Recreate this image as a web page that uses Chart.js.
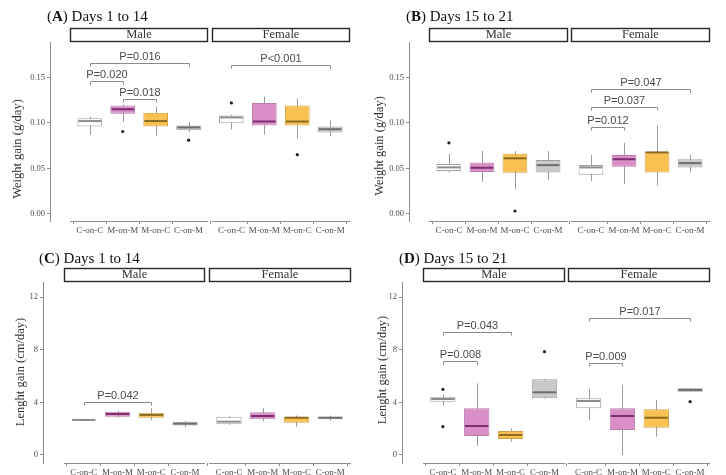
<!DOCTYPE html>
<html>
<head>
<meta charset="utf-8">
<script src="https://cdn.jsdelivr.net/npm/chart.js@4"></script>
<style>
html, body { margin: 0; padding: 0; background: #fff; overflow: hidden; }
#wrap { position: relative; width: 726px; height: 475px; overflow: hidden; }
canvas { position: absolute; }
</style>
</head>
<body>
<div id="wrap">
  <canvas id="panelA" width="372" height="237" style="left:0;top:0"></canvas>
  <canvas id="panelB" width="360" height="237" style="left:372px;top:0"></canvas>
  <canvas id="panelC" width="372" height="238" style="left:0;top:237px"></canvas>
  <canvas id="panelD" width="360" height="238" style="left:372px;top:237px"></canvas>
</div>
<script>
// treatment groups, same order in every facet
const groups = ['C-on-C', 'M-on-M', 'M-on-C', 'C-on-M'];

// boxes: [lower whisker, Q1, median, Q3, upper whisker]
const wtEarlyMale   = [[0.087, 0.096, 0.102, 0.105, 0.107], [0.101, 0.110, 0.115, 0.119, 0.120], [0.086, 0.096, 0.102, 0.111, 0.118], [0.090, 0.092, 0.095, 0.097, 0.101]];
const wtEarlyFemale = [[0.093, 0.0997, 0.106, 0.108, 0.109], [0.087, 0.097, 0.1015, 0.122, 0.129], [0.083, 0.097, 0.1015, 0.119, 0.127], [0.085, 0.0894, 0.093, 0.096, 0.103]];
const wtLateMale    = [[0.0455, 0.047, 0.051, 0.0547, 0.066], [0.035, 0.046, 0.0506, 0.0565, 0.069], [0.027, 0.045, 0.061, 0.066, 0.069], [0.037, 0.0455, 0.0535, 0.059, 0.069]];
const wtLateFemale  = [[0.036, 0.043, 0.051, 0.0535, 0.0645], [0.0327, 0.0517, 0.060, 0.0645, 0.078], [0.031, 0.0455, 0.0675, 0.068, 0.097], [0.0455, 0.051, 0.0557, 0.060, 0.065]];
const lenEarlyMale   = [[2.62, 2.63, 2.66, 2.69, 2.70], [2.85, 2.91, 3.11, 3.29, 3.35], [2.65, 2.83, 3.04, 3.21, 3.55], [2.10, 2.23, 2.38, 2.53, 2.60]];
const lenEarlyFemale = [[2.30, 2.33, 2.53, 2.91, 2.95], [2.55, 2.71, 2.96, 3.24, 3.55], [2.15, 2.45, 2.83, 2.91, 3.00], [2.60, 2.71, 2.83, 2.91, 3.00]];
const lenLateMale    = [[3.80, 4.05, 4.25, 4.43, 4.60], [0.68, 1.44, 2.20, 3.54, 5.44], [1.01, 1.21, 1.52, 1.82, 2.02], [4.30, 4.30, 4.76, 5.75, 5.75]];
const lenLateFemale  = [[2.66, 3.54, 4.10, 4.30, 5.00], [0.00, 1.90, 2.96, 3.54, 5.30], [1.39, 2.07, 2.83, 3.47, 4.17], [4.81, 4.81, 4.94, 5.06, 5.06]];

// outliers: [group index, value]
const wtEarlyMaleOut   = [[1, 0.0905], [3, 0.081]];
const wtEarlyFemaleOut = [[0, 0.122], [2, 0.065]];
const wtLateMaleOut    = [[0, 0.078], [2, 0.003]];
const wtLateFemaleOut  = [];
const lenEarlyMaleOut   = [];
const lenEarlyFemaleOut = [];
const lenLateMaleOut    = [[0, 4.99], [0, 2.15], [3, 7.85]];
const lenLateFemaleOut  = [[3, 4.05]];

// significance brackets: [from group, to group, height, label]
const wtEarlyMaleSig   = [[0, 3, 0.166, 'P=0.016'], [0, 1, 0.146, 'P=0.020'], [1, 2, 0.1265, 'P=0.018']];
const wtEarlyFemaleSig = [[0, 3, 0.164, 'P<0.001']];
const wtLateMaleSig    = [];
const wtLateFemaleSig  = [[0, 3, 0.137, 'P=0.047'], [0, 2, 0.117, 'P=0.037'], [0, 1, 0.095, 'P=0.012']];
const lenEarlyMaleSig   = [[0, 2, 4.05, 'P=0.042']];
const lenEarlyFemaleSig = [];
const lenLateMaleSig    = [[0, 2, 9.32, 'P=0.043'], [0, 1, 7.14, 'P=0.008']];
const lenLateFemaleSig  = [[0, 3, 10.43, 'P=0.017'], [0, 1, 7.0, 'P=0.009']];

const weightTicks = [0, 0.05, 0.10, 0.15];
const lengthTicks = [0, 4, 8, 12];

// x positions of the 8 boxes (male facet then female facet) and facet extents
const xPos = [1, 2, 3, 4, 5.3, 6.3, 7.3, 8.3];
const facetRanges = [[0.4, 4.6], [4.7, 8.9]];
const facetNames = ['Male', 'Female'];

const fillColors   = ['#ffffff', '#d98ec6', '#f8c152', '#c9c9c9'];
const borderColors = ['#a0a0a0', '#bb7fad', '#d3a245', '#9e9e9e'];
const medianColors = ['#8c8c8c', '#7d2f6f', '#8b6a23', '#6e6e6e'];
const axisGray = '#8c8c8c';
const serif = '"Liberation Serif", "Times New Roman", serif';
const sans = '"Liberation Sans", Arial, sans-serif';

const panels = [
    {canvas: 'panelA', letter: 'A', days: 'Days 1 to 14', yTitle: 'Weight gain (g/day)',
     male: wtEarlyMale, female: wtEarlyFemale, maleOut: wtEarlyMaleOut, femaleOut: wtEarlyFemaleOut,
     maleSig: wtEarlyMaleSig, femaleSig: wtEarlyFemaleSig, ticks: weightTicks, digits: 2,
     yMin: -0.008, yMax: 0.189, left: 0, top: 0, w: 372, h: 237,
     plot: {l: 50, r: 370, t: 42, b: 221}, titleX: 47, titleY: 21, yTitleX: 18, yTitleY: 149},
    {canvas: 'panelB', letter: 'B', days: 'Days 15 to 21', yTitle: 'Weight gain (g/day)',
     male: wtLateMale, female: wtLateFemale, maleOut: wtLateMaleOut, femaleOut: wtLateFemaleOut,
     maleSig: wtLateMaleSig, femaleSig: wtLateFemaleSig, ticks: weightTicks, digits: 2,
     yMin: -0.008, yMax: 0.189, left: 372, top: 0, w: 360, h: 237,
     plot: {l: 409, r: 730, t: 42, b: 221}, titleX: 406, titleY: 21, yTitleX: 380, yTitleY: 146},
    {canvas: 'panelC', letter: 'C', days: 'Days 1 to 14', yTitle: 'Lenght gain (cm/day)',
     male: lenEarlyMale, female: lenEarlyFemale, maleOut: lenEarlyMaleOut, femaleOut: lenEarlyFemaleOut,
     maleSig: lenEarlyMaleSig, femaleSig: lenEarlyFemaleSig, ticks: lengthTicks, digits: 0,
     yMin: -0.61, yMax: 13.14, left: 0, top: 237, w: 372, h: 238,
     plot: {l: 43, r: 371, t: 282, b: 463}, titleX: 39, titleY: 263, yTitleX: 21, yTitleY: 372},
    {canvas: 'panelD', letter: 'D', days: 'Days 15 to 21', yTitle: 'Lenght gain (cm/day)',
     male: lenLateMale, female: lenLateFemale, maleOut: lenLateMaleOut, femaleOut: lenLateFemaleOut,
     maleSig: lenLateMaleSig, femaleSig: lenLateFemaleSig, ticks: lengthTicks, digits: 0,
     yMin: -0.61, yMax: 13.14, left: 372, top: 237, w: 360, h: 238,
     plot: {l: 402, r: 731, t: 282, b: 463}, titleX: 399, titleY: 263, yTitleX: 383, yTitleY: 370}
];

function panelDecor(p){
    const stats = p.male.concat(p.female);
    return {
        id: 'panelDecor',
        beforeDatasetsDraw(chart){      // whiskers sit behind the boxes
            const ctx = chart.ctx, ys = chart.scales.y;
            const meta = chart.getDatasetMeta(0);
            ctx.save();
            ctx.strokeStyle = '#9a9a9a';
            ctx.lineWidth = 1;
            meta.data.forEach(function(bar, i){
                const x = Math.round(bar.x) + 0.5;
                ctx.beginPath();
                ctx.moveTo(x, ys.getPixelForValue(stats[i][0]));
                ctx.lineTo(x, ys.getPixelForValue(stats[i][4]));
                ctx.stroke();
            });
            ctx.restore();
        },
        afterDatasetsDraw(chart){
            const ctx = chart.ctx, xs = chart.scales.x, ys = chart.scales.y;
            const meta = chart.getDatasetMeta(0);
            ctx.save();
            // medians
            ctx.lineWidth = 2;
            meta.data.forEach(function(bar, i){
                const y = ys.getPixelForValue(stats[i][2]);
                ctx.strokeStyle = medianColors[i % 4];
                ctx.beginPath();
                ctx.moveTo(bar.x - bar.width / 2 + 1, y);
                ctx.lineTo(bar.x + bar.width / 2 - 1, y);
                ctx.stroke();
            });
            // significance brackets
            [p.maleSig, p.femaleSig].forEach(function(sigs, f){
                sigs.forEach(function(s){
                    const x1 = Math.round(xs.getPixelForValue(xPos[f * 4 + s[0]])) + 0.5;
                    const x2 = Math.round(xs.getPixelForValue(xPos[f * 4 + s[1]])) + 0.5;
                    const y = Math.round(ys.getPixelForValue(s[2])) + 0.5;
                    ctx.strokeStyle = '#8a8a8a';
                    ctx.lineWidth = 1;
                    ctx.beginPath();
                    ctx.moveTo(x1, y + 3);
                    ctx.lineTo(x1, y);
                    ctx.lineTo(x2, y);
                    ctx.lineTo(x2, y + 3);
                    ctx.stroke();
                    ctx.fillStyle = '#4a4a4a';
                    ctx.font = '11px ' + sans;
                    ctx.textAlign = 'center';
                    ctx.textBaseline = 'bottom';
                    ctx.fillText(s[3], (x1 + x2) / 2, y - 1);
                });
            });
            ctx.restore();
        },
        afterDraw(chart){
            const ctx = chart.ctx, xs = chart.scales.x, area = chart.chartArea;
            ctx.save();
            // panel title with bold letter
            const tx = p.titleX - p.left, ty = p.titleY - p.top;
            ctx.fillStyle = '#111';
            ctx.textBaseline = 'alphabetic';
            ctx.textAlign = 'left';
            ctx.font = '15px ' + serif;
            ctx.fillText('(', tx, ty);
            let cx = tx + ctx.measureText('(').width;
            ctx.font = 'bold 15px ' + serif;
            ctx.fillText(p.letter, cx, ty);
            cx += ctx.measureText(p.letter).width;
            ctx.font = '15px ' + serif;
            ctx.fillText(') ' + p.days, cx, ty);

            // facet strips and per-facet x axis lines
            facetRanges.forEach(function(r, f){
                const x1 = Math.round(xs.getPixelForValue(r[0]));
                const x2 = Math.round(xs.getPixelForValue(r[1]));
                ctx.fillStyle = '#fff';
                ctx.fillRect(x1, area.top - 14, x2 - x1, 14);
                ctx.strokeStyle = '#262626';
                ctx.lineWidth = 1.4;
                ctx.strokeRect(x1 + 0.5, area.top - 14 + 0.5, x2 - x1 - 1, 13);
                ctx.fillStyle = '#333';
                ctx.font = '12.5px ' + serif;
                ctx.textAlign = 'center';
                ctx.textBaseline = 'middle';
                ctx.fillText(facetNames[f], (x1 + x2) / 2, area.top - 7);

                ctx.fillStyle = axisGray;
                ctx.fillRect(x1, Math.round(area.bottom), x2 - x1, 1);
            });

            // y axis title
            ctx.translate(p.yTitleX - p.left, p.yTitleY - p.top);
            ctx.rotate(-Math.PI / 2);
            ctx.fillStyle = '#333';
            ctx.font = '12.5px ' + serif;
            ctx.textAlign = 'center';
            ctx.textBaseline = 'middle';
            ctx.fillText(p.yTitle, 0, 0);
            ctx.restore();
        }
    };
}

panels.forEach(function(p){
    const stats = p.male.concat(p.female);
    const outs = p.maleOut.map(o => ({x: xPos[o[0]], y: o[1]}))
        .concat(p.femaleOut.map(o => ({x: xPos[4 + o[0]], y: o[1]})));
    const yWidth = p.plot.l - p.left;
    const xHeight = p.h - (p.plot.b - p.top);

    new Chart(document.getElementById(p.canvas), {
        type: 'bar',
        data: {
            datasets: [{
                type: 'bar',
                data: stats.map((s, i) => ({x: xPos[i], y: [s[1], s[3]]})),
                backgroundColor: stats.map((s, i) => fillColors[i % 4]),
                borderColor: stats.map((s, i) => borderColors[i % 4]),
                borderWidth: 1,
                borderSkipped: false,
                barPercentage: 0.75,
                categoryPercentage: 1,
                grouped: false,
                order: 2
            }, {
                type: 'scatter',
                data: outs,
                pointRadius: 1.6,
                pointBorderWidth: 0,
                backgroundColor: '#222',
                order: 1
            }]
        },
        options: {
            responsive: false,
            animation: false,
            layout: {
                autoPadding: false,
                padding: {left: 0, top: p.plot.t - p.top, right: p.w - (p.plot.r - p.left), bottom: 0}
            },
            plugins: {legend: {display: false}, tooltip: {enabled: false}, title: {display: false}},
            scales: {
                x: {
                    type: 'linear',
                    min: facetRanges[0][0],
                    max: facetRanges[1][1],
                    afterBuildTicks: function(scale){
                        scale.ticks = xPos.map(v => ({value: v}));
                    },
                    afterFit: function(scale){ scale.height = xHeight; },
                    border: {display: false},
                    grid: {drawOnChartArea: false, drawTicks: true, tickLength: 3, color: axisGray},
                    ticks: {
                        autoSkip: false,
                        maxRotation: 0,
                        padding: 1,
                        color: '#4d4d4d',
                        font: {family: serif, size: 9},
                        callback: function(value, index){ return groups[index % 4]; }
                    }
                },
                y: {
                    min: p.yMin,
                    max: p.yMax,
                    afterBuildTicks: function(scale){
                        scale.ticks = p.ticks.map(v => ({value: v}));
                    },
                    afterFit: function(scale){ scale.width = yWidth; },
                    border: {display: true, color: axisGray, width: 1},
                    grid: {drawOnChartArea: false, drawTicks: true, tickLength: 3, color: axisGray},
                    ticks: {
                        padding: 2,
                        color: '#4d4d4d',
                        font: {family: serif, size: 8.5},
                        callback: function(value){ return value.toFixed(p.digits); }
                    }
                }
            }
        },
        plugins: [panelDecor(p)]
    });
});
</script>
</body>
</html>
